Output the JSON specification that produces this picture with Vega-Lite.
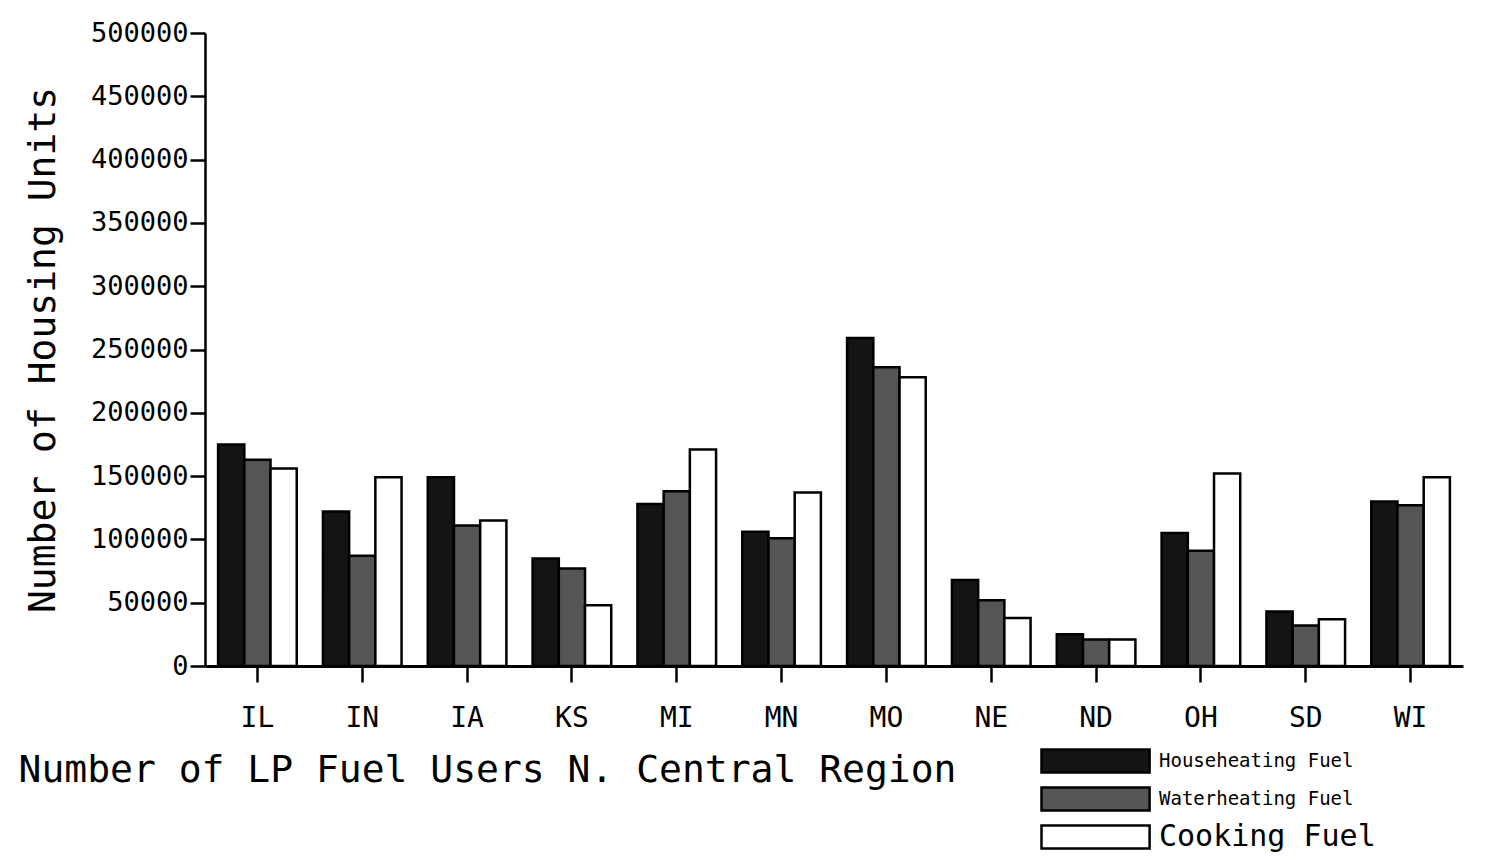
{
  "$schema": "https://vega.github.io/schema/vega-lite/v6.json",
  "width": 1258,
  "height": 633,
  "autosize": "none",
  "padding": {"left": 205, "top": 33, "right": 23, "bottom": 194},
  "background": "white",
  "data": {
    "values": [
      {"state": "IL", "fuel": "Househeating Fuel", "units": 175000},
      {"state": "IL", "fuel": "Waterheating Fuel", "units": 163000},
      {"state": "IL", "fuel": "Cooking Fuel", "units": 156000},
      {"state": "IN", "fuel": "Househeating Fuel", "units": 122000},
      {"state": "IN", "fuel": "Waterheating Fuel", "units": 87000},
      {"state": "IN", "fuel": "Cooking Fuel", "units": 149000},
      {"state": "IA", "fuel": "Househeating Fuel", "units": 149000},
      {"state": "IA", "fuel": "Waterheating Fuel", "units": 111000},
      {"state": "IA", "fuel": "Cooking Fuel", "units": 115000},
      {"state": "KS", "fuel": "Househeating Fuel", "units": 85000},
      {"state": "KS", "fuel": "Waterheating Fuel", "units": 77000},
      {"state": "KS", "fuel": "Cooking Fuel", "units": 48000},
      {"state": "MI", "fuel": "Househeating Fuel", "units": 128000},
      {"state": "MI", "fuel": "Waterheating Fuel", "units": 138000},
      {"state": "MI", "fuel": "Cooking Fuel", "units": 171000},
      {"state": "MN", "fuel": "Househeating Fuel", "units": 106000},
      {"state": "MN", "fuel": "Waterheating Fuel", "units": 101000},
      {"state": "MN", "fuel": "Cooking Fuel", "units": 137000},
      {"state": "MO", "fuel": "Househeating Fuel", "units": 259000},
      {"state": "MO", "fuel": "Waterheating Fuel", "units": 236000},
      {"state": "MO", "fuel": "Cooking Fuel", "units": 228000},
      {"state": "NE", "fuel": "Househeating Fuel", "units": 68000},
      {"state": "NE", "fuel": "Waterheating Fuel", "units": 52000},
      {"state": "NE", "fuel": "Cooking Fuel", "units": 38000},
      {"state": "ND", "fuel": "Househeating Fuel", "units": 25000},
      {"state": "ND", "fuel": "Waterheating Fuel", "units": 21000},
      {"state": "ND", "fuel": "Cooking Fuel", "units": 21000},
      {"state": "OH", "fuel": "Househeating Fuel", "units": 105000},
      {"state": "OH", "fuel": "Waterheating Fuel", "units": 91000},
      {"state": "OH", "fuel": "Cooking Fuel", "units": 152000},
      {"state": "SD", "fuel": "Househeating Fuel", "units": 43000},
      {"state": "SD", "fuel": "Waterheating Fuel", "units": 32000},
      {"state": "SD", "fuel": "Cooking Fuel", "units": 37000},
      {"state": "WI", "fuel": "Househeating Fuel", "units": 130000},
      {"state": "WI", "fuel": "Waterheating Fuel", "units": 127000},
      {"state": "WI", "fuel": "Cooking Fuel", "units": 149000}
    ]
  },
  "mark": {"type": "bar", "stroke": "black", "strokeWidth": 2.5},
  "encoding": {
    "x": {
      "field": "state",
      "type": "nominal",
      "sort": ["IL", "IN", "IA", "KS", "MI", "MN", "MO", "NE", "ND", "OH", "SD", "WI"],
      "scale": {"paddingInner": 0.25, "paddingOuter": 0.125},
      "axis": {
        "labelAngle": 0,
        "labelFont": "DejaVu Sans Mono",
        "labelFontSize": 28,
        "labelColor": "black",
        "labelPadding": 22,
        "tickSize": 16,
        "tickWidth": 2.5,
        "tickColor": "black",
        "domainWidth": 3,
        "domainColor": "black",
        "title": "Number of LP Fuel Users N. Central Region",
        "titleFont": "DejaVu Sans Mono",
        "titleFontSize": 38,
        "titleFontWeight": "normal",
        "titleColor": "black",
        "titleAnchor": "start",
        "titleAlign": "left",
        "titleBaseline": "middle",
        "titleX": -187,
        "titleY": 104
      }
    },
    "xOffset": {
      "field": "fuel",
      "sort": ["Househeating Fuel", "Waterheating Fuel", "Cooking Fuel"]
    },
    "y": {
      "field": "units",
      "type": "quantitative",
      "scale": {"domain": [0, 500000], "nice": false},
      "axis": {
        "values": [0, 50000, 100000, 150000, 200000, 250000, 300000, 350000, 400000, 450000, 500000],
        "format": "d",
        "grid": false,
        "labelFont": "DejaVu Sans Mono",
        "labelFontSize": 27,
        "labelColor": "black",
        "labelPadding": 2,
        "tickSize": 15,
        "tickWidth": 2.5,
        "tickColor": "black",
        "domainWidth": 2.5,
        "domainColor": "black",
        "title": "Number of Housing Units",
        "titleFont": "DejaVu Sans Mono",
        "titleFontSize": 38,
        "titleFontWeight": "normal",
        "titleColor": "black",
        "titlePadding": 28
      }
    },
    "fill": {
      "field": "fuel",
      "type": "nominal",
      "scale": {
        "domain": ["Househeating Fuel", "Waterheating Fuel", "Cooking Fuel"],
        "range": ["#141414", "#555555", "#ffffff"]
      },
      "legend": {
        "title": null,
        "orient": "none",
        "legendX": 835,
        "legendY": 715,
        "symbolType": "M-1,-1H8.4V1H-1Z",
        "symbolSize": 529,
        "symbolStrokeColor": "black",
        "symbolStrokeWidth": 2.5,
        "symbolOpacity": 1,
        "labelFont": "DejaVu Sans Mono",
        "labelFontSize": 19,
        "labelColor": "black",
        "labelOffset": 93,
        "rowPadding": 4,
        "labelLimit": 400,
        "encode": {
          "labels": {
            "update": {
              "fontSize": {"signal": "datum.label === 'Cooking Fuel' ? 30 : 19"}
            }
          }
        }
      }
    }
  },
  "config": {"view": {"stroke": null}}
}
